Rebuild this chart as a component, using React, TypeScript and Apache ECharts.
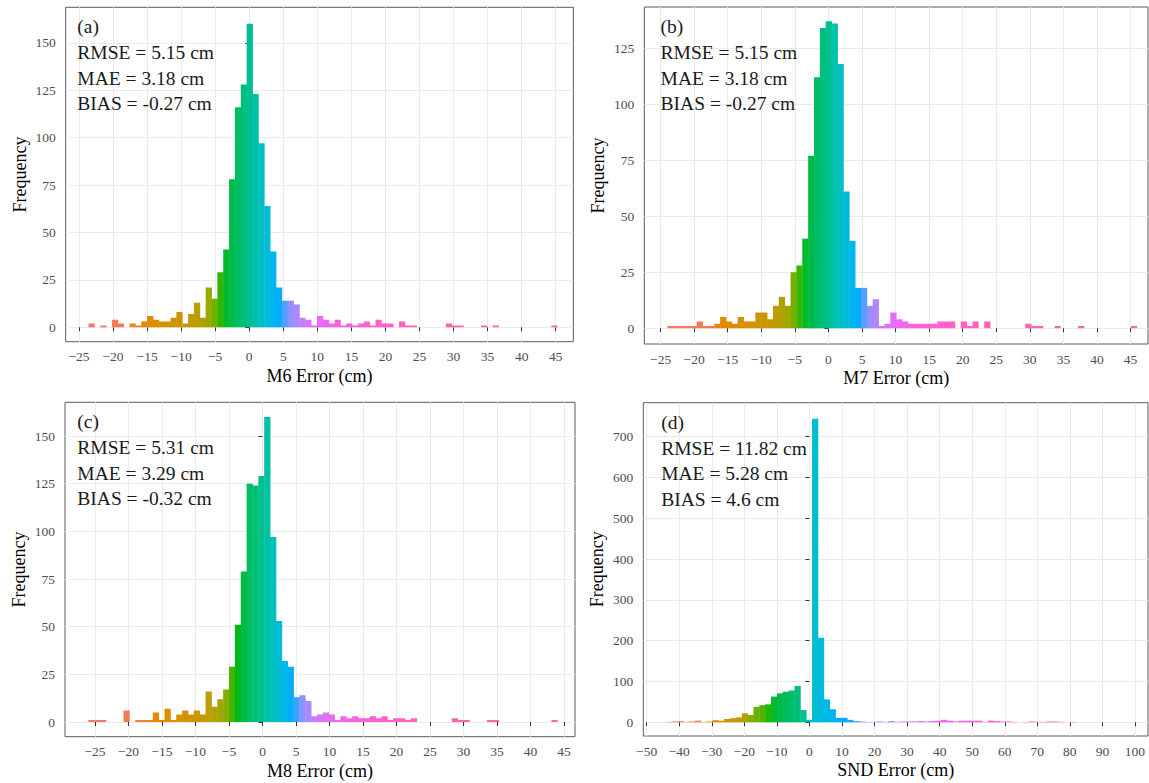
import React, { useEffect, useRef } from "react";
import * as echarts from "echarts";

// ---------------- DATA ----------------
const panelLabels = ["(a)", "(b)", "(c)", "(d)"];
const xTitles = ["M6 Error (cm)", "M7 Error (cm)", "M8 Error (cm)", "SND Error (cm)"];
const yTitle = "Frequency";
const statsA = ["RMSE = 5.15 cm", "MAE = 3.18 cm", "BIAS = -0.27 cm"];
const statsB = ["RMSE = 5.15 cm", "MAE = 3.18 cm", "BIAS = -0.27 cm"];
const statsC = ["RMSE = 5.31 cm", "MAE = 3.29 cm", "BIAS = -0.32 cm"];
const statsD = ["RMSE = 11.82 cm", "MAE = 5.28 cm", "BIAS = 4.6 cm"];

// histogram bins: first bin left edge and bin width (cm)
const binStartA = -23.6, binWidthA = 0.86;
const binStartB = -24.0, binWidthB = 0.874;
const binStartC = -26.0, binWidthC = 0.875;
const binStartD = -44.2, binWidthD = 1.8;

const countsA = [
  2, 0, 1, 0, 4, 2, 0, 2, 1, 3,
  6, 4, 3, 3, 5, 8, 2, 7, 13, 5,
  21, 15, 29, 41, 78, 116, 128, 160, 123, 97,
  64, 40, 21, 14, 14, 12, 5, 4, 1, 6,
  4, 2, 4, 1, 2, 1, 2, 3, 1, 4,
  2, 2, 0, 3, 1, 1, 0, 0, 0, 0,
  0, 2, 1, 1, 0, 0, 0, 1, 0, 1,
  0, 0, 0, 0, 0, 0, 0, 0, 0, 1,
];
const countsB = [
  1, 1, 1, 1, 1, 3, 1, 1, 2, 5,
  3, 2, 5, 3, 3, 7, 7, 4, 10, 14,
  10, 25, 28, 40, 77, 112, 134, 137, 136, 118,
  61, 39, 18, 18, 10, 13, 1, 2, 7, 4,
  3, 2, 2, 2, 2, 2, 3, 3, 3, 0,
  3, 1, 3, 0, 3, 0, 0, 0, 0, 0,
  0, 2, 1, 1, 0, 0, 1, 0, 0, 0,
  1, 0, 0, 0, 0, 0, 0, 0, 0, 1,
];
const countsC = [
  1, 1, 1, 0, 0, 0, 6, 0, 1, 1,
  1, 5, 1, 7, 1, 4, 6, 4, 6, 4,
  16, 8, 12, 17, 29, 51, 79, 125, 124, 129,
  160, 97, 53, 32, 29, 13, 14, 11, 3, 4,
  5, 4, 1, 3, 2, 3, 2, 2, 3, 2,
  3, 1, 2, 2, 1, 2, 0, 0, 0, 0,
  0, 0, 2, 1, 1, 0, 0, 0, 1, 1,
  0, 0, 0, 0, 0, 0, 0, 0, 0, 1,
];
const countsD = [
  1, 2, 3, 1, 2, 4, 1, 2, 5, 4,
  8, 10, 12, 22, 18, 38, 42, 44, 63, 71,
  75, 78, 89, 30, 6, 744, 207, 56, 32, 11,
  11, 6, 3, 2, 1, 1, 2, 1, 3, 1,
  2, 2, 2, 3, 2, 3, 4, 6, 4, 2,
  4, 4, 4, 4, 1, 4, 3, 2, 2, 1,
  0, 1, 2, 1, 1, 2, 2, 1, 0, 1,
];

const xTicksM = [-25, -20, -15, -10, -5, 0, 5, 10, 15, 20, 25, 30, 35, 40, 45];
const xTicksD = [-50, -40, -30, -20, -10, 0, 10, 20, 30, 40, 50, 60, 70, 80, 90, 100];
const yTicks150 = [0, 25, 50, 75, 100, 125, 150];
const yTicks125 = [0, 25, 50, 75, 100, 125];
const yTicks700 = [0, 100, 200, 300, 400, 500, 600, 700];

// ---------------- STYLE ----------------
const FONT = "Liberation Serif, Times New Roman, serif";

// hue anchors (x in cm -> hcl hue), ggplot-like hue palette
const hueM = [
  [-26, 12], [-19, 25], [-15, 43], [-11, 56], [-8, 70], [-6, 90], [-4.5, 122],
  [-2.5, 140], [0, 168], [1.8, 195], [3, 215], [4.3, 235], [5.5, 258], [7.5, 282],
  [9.5, 300], [12, 315], [18, 333], [25, 343], [46, 357],
];
const hueD = [
  [-44, 15], [-35, 25], [-30, 40], [-24, 56], [-20, 78], [-17, 108], [-13, 125],
  [-8, 143], [-4, 155], [-2, 168], [1, 200], [3.5, 212], [6, 222], [9, 235],
  [14, 252], [25, 280], [35, 295], [41, 305], [50, 320], [57, 330], [82, 348],
];

function hueAt(anchors: number[][], x: number) {
  if (x <= anchors[0][0]) return anchors[0][1];
  for (let i = 1; i < anchors.length; i++) {
    if (x <= anchors[i][0]) {
      const [x0, h0] = anchors[i - 1];
      const [x1, h1] = anchors[i];
      return h0 + ((x - x0) / (x1 - x0)) * (h1 - h0);
    }
  }
  return anchors[anchors.length - 1][1];
}

function hcl(h: number, c = 100, l = 65) {
  const hr = (h * Math.PI) / 180;
  const u = c * Math.cos(hr);
  const v = c * Math.sin(hr);
  const Xn = 95.047, Yn = 100, Zn = 108.883;
  const un = (4 * Xn) / (Xn + 15 * Yn + 3 * Zn);
  const vn = (9 * Yn) / (Xn + 15 * Yn + 3 * Zn);
  const Y = l > 8 ? Yn * Math.pow((l + 16) / 116, 3) : (Yn * l) / 903.3;
  const up = u / (13 * l) + un;
  const vp = v / (13 * l) + vn;
  const X = (9 * Y * up) / (4 * vp);
  const Z = -X / 3 - 5 * Y + (3 * Y) / vp;
  const x = X / 100, y = Y / 100, z = Z / 100;
  const lin = [
    3.2404542 * x - 1.5371385 * y - 0.4985314 * z,
    -0.969266 * x + 1.8760108 * y + 0.041556 * z,
    0.0556434 * x - 0.2040259 * y + 1.0572252 * z,
  ];
  const out = lin.map((t) => {
    const g = t <= 0.0031308 ? 12.92 * t : 1.055 * Math.pow(t, 1 / 2.4) - 0.055;
    const k = Math.round(Math.max(0, Math.min(1, g)) * 255);
    return k.toString(16).padStart(2, "0");
  });
  return "#" + out.join("");
}

type Panel = {
  counts: number[];
  start: number;
  width: number;
  hues: number[][];
  xTicks: number[];
  yTicks: number[];
  xMin: number; xMax: number; yMin: number; yMax: number;
  grid: { left: number; top: number; width: number; height: number };
  textDx: number;
  stats: string[];
};

const panels: Panel[] = [
  {
    counts: countsA, start: binStartA, width: binWidthA, hues: hueM,
    xTicks: xTicksM, yTicks: yTicks150,
    xMin: -26.95, xMax: 47.58, yMin: -7.6, yMax: 168.7,
    grid: { left: 65.7, top: 7.3, width: 507.6, height: 334.4 },
    textDx: 11.6, stats: statsA,
  },
  {
    counts: countsB, start: binStartB, width: binWidthB, hues: hueM,
    xTicks: xTicksM, yTicks: yTicks125,
    xMin: -27.43, xMax: 47.6, yMin: -7.05, yMax: 143.4,
    grid: { left: 644.3, top: 7, width: 503.7, height: 337 },
    textDx: 16.3, stats: statsB,
  },
  {
    counts: countsC, start: binStartC, width: binWidthC, hues: hueM,
    xTicks: xTicksM, yTicks: yTicks150,
    xMin: -29.48, xMax: 46.64, yMin: -7.7, yMax: 167.7,
    grid: { left: 65, top: 402.3, width: 510, height: 334.4 },
    textDx: 12.3, stats: statsC,
  },
  {
    counts: countsD, start: binStartD, width: binWidthD, hues: hueD,
    xTicks: xTicksD, yTicks: yTicks700,
    xMin: -51.04, xMax: 104.0, yMin: -33.6, yMax: 783.3,
    grid: { left: 643.3, top: 402.7, width: 504.7, height: 333.3 },
    textDx: 17.9, stats: statsD,
  },
];

const textDy = [19.5, 45.5, 71, 96.5];

function minusFmt(v: number) {
  return String(v).replace("-", "\u2212");
}

export default function App() {
  const ref = useRef<HTMLDivElement>(null);

  useEffect(() => {
    if (!ref.current) return;
    const chart = echarts.init(ref.current, undefined, { renderer: "svg" });

    const grids = panels.map((p) => ({
      left: p.grid.left,
      top: p.grid.top,
      width: p.grid.width,
      height: p.grid.height,
      show: true,
      borderColor: "#5a5a5a",
      borderWidth: 1,
      backgroundColor: "#ffffff",
      containLabel: false,
    }));

    const xAxes = panels.map((p, i) => ({
      type: "value",
      gridIndex: i,
      min: p.xMin,
      max: p.xMax,
      name: xTitles[i],
      nameLocation: "middle",
      nameGap: 25,
      nameTextStyle: { color: "#000", fontSize: 18, fontFamily: FONT },
      axisLine: { show: false },
      axisTick: {
        show: true,
        length: 4,
        lineStyle: { color: "#333", width: 1 },
        customValues: p.xTicks,
      },
      axisLabel: {
        customValues: p.xTicks,
        formatter: minusFmt,
        color: "#4d4d4d",
        fontSize: 13.5,
        fontFamily: FONT,
        margin: 8,
      },
      splitLine: { show: true, lineStyle: { color: "#ebebeb", width: 1 } },
    }));

    const yAxes = panels.map((p, i) => ({
      type: "value",
      gridIndex: i,
      min: p.yMin,
      max: p.yMax,
      name: yTitle,
      nameLocation: "middle",
      nameGap: 37,
      nameTextStyle: { color: "#000", fontSize: 18, fontFamily: FONT },
      axisLine: { show: false },
      axisTick: {
        show: true,
        length: 4,
        lineStyle: { color: "#333", width: 1 },
        customValues: p.yTicks,
      },
      axisLabel: {
        customValues: p.yTicks,
        color: "#4d4d4d",
        fontSize: 13.5,
        fontFamily: FONT,
        margin: 10,
      },
      splitLine: { show: true, lineStyle: { color: "#ebebeb", width: 1 } },
    }));

    const series = panels.map((p, i) => ({
      type: "custom",
      xAxisIndex: i,
      yAxisIndex: i,
      clip: true,
      encode: { x: [0, 1], y: 2 },
      data: p.counts.map((c, k) => [p.start + k * p.width, p.start + (k + 1) * p.width, c]),
      renderItem: (params: any, api: any) => {
        const x0 = api.value(0);
        const x1 = api.value(1);
        const c = api.value(2);
        if (!c) return null;
        const a = api.coord([x0, c]);
        const b = api.coord([x1, 0]);
        const color = hcl(hueAt(p.hues, (x0 + x1) / 2));
        return {
          type: "rect",
          shape: { x: a[0], y: a[1], width: b[0] - a[0] + 0.4, height: b[1] - a[1] },
          style: { fill: color, stroke: null },
        };
      },
    }));

    const graphics: any[] = [];
    panels.forEach((p, i) => {
      const lines = [panelLabels[i], ...p.stats];
      lines.forEach((t, j) => {
        graphics.push({
          type: "text",
          x: p.grid.left + p.textDx,
          y: p.grid.top + textDy[j],
          z: 100,
          style: {
            text: t,
            fill: "#1a1a1a",
            fontSize: 19.5,
            fontFamily: FONT,
            verticalAlign: "middle",
            align: "left",
          },
        });
      });
    });

    chart.setOption({
      animation: false,
      backgroundColor: "#ffffff",
      grid: grids,
      xAxis: xAxes,
      yAxis: yAxes,
      series,
      graphic: graphics,
    });

    return () => chart.dispose();
  }, []);

  return (
    <div
      ref={ref}
      style={{ position: "absolute", left: 0, top: 0, width: 1149, height: 783 }}
    />
  );
}
